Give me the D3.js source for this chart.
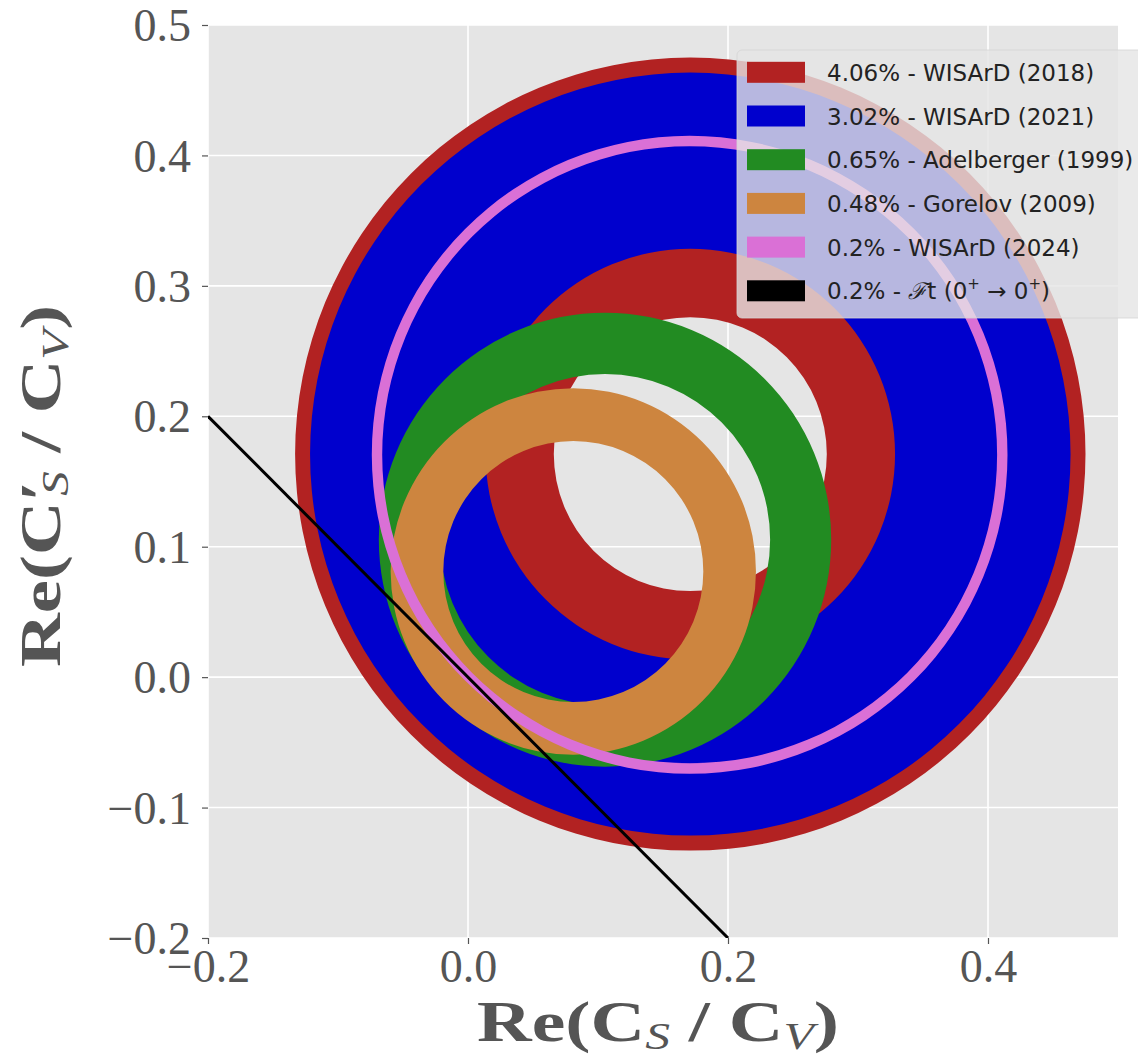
<!DOCTYPE html>
<html>
<meta charset="utf-8">
<style>
  body { margin: 0; background: #fff; }
  .tick text { font-family: "Liberation Serif", serif; font-size: 46px; fill: #555; }
  .axlabel { font-family: "Liberation Serif", serif; font-weight: bold; font-size: 58px; fill: #555; }
  .legend text { font-family: "DejaVu Sans", sans-serif; font-size: 23px; fill: #222; }
</style>
<head>
<script src="https://cdnjs.cloudflare.com/ajax/libs/d3/7.8.5/d3.min.js"></script>
</head>
<body>
<script>
// ring data (centre sits on the diagonal x = y)
var labels = ["4.06% - WISArD (2018)", "3.02% - WISArD (2021)", "0.65% - Adelberger (1999)",
              "0.48% - Gorelov (2009)", "0.2% - WISArD (2024)"];
var colors = ["#b22222", "#0000cd", "#228b22", "#cd853f", "#da70d6"];
var centers = [0.171, 0.171, 0.1054, 0.081, 0.1705];
var innerR = [0.105, 0.1575, 0.127, 0.100, 0.2365];
var outerR = [0.304, 0.2925, 0.174, 0.1405, 0.2445];

// F_t constraint line
var lineX = [-0.2, 0.2];
var lineY = [0.2, -0.2];

var xTicks = [-0.2, 0.0, 0.2, 0.4];
var yTicks = [-0.2, -0.1, 0.0, 0.1, 0.2, 0.3, 0.4, 0.5];

var width = 1138, height = 1059;
var m = {left: 208, right: 1118, top: 25, bottom: 938};

var x = d3.scaleLinear().domain([-0.2, 0.5]).range([m.left, m.right]);
var y = d3.scaleLinear().domain([-0.2, 0.5]).range([m.bottom, m.top]);

var svg = d3.select("body").append("svg")
    .attr("width", width)
    .attr("height", height);

svg.append("defs").append("clipPath").attr("id", "clip")
  .append("rect")
    .attr("x", m.left).attr("y", m.top)
    .attr("width", m.right - m.left).attr("height", m.bottom - m.top);

svg.append("rect")
    .attr("x", m.left).attr("y", m.top)
    .attr("width", m.right - m.left).attr("height", m.bottom - m.top)
    .attr("fill", "#e5e5e5");

// grid
var grid = svg.append("g");
grid.selectAll(".gx").data(xTicks).enter().append("line")
    .attr("x1", d => x(d)).attr("x2", d => x(d))
    .attr("y1", m.top).attr("y2", m.bottom)
    .attr("stroke", "#fff").attr("stroke-width", 1.6);
grid.selectAll(".gy").data(yTicks).enter().append("line")
    .attr("y1", d => y(d)).attr("y2", d => y(d))
    .attr("x1", m.left).attr("x2", m.right)
    .attr("stroke", "#fff").attr("stroke-width", 1.6);

// annulus as two ellipses, even-odd filled
function ellipse(c, r) {
  var cx = x(c), cy = y(c), rx = x(c + r) - x(c), ry = y(c) - y(c + r);
  return "M" + (cx - rx) + "," + cy +
         "A" + rx + "," + ry + " 0 1,0 " + (cx + rx) + "," + cy +
         "A" + rx + "," + ry + " 0 1,0 " + (cx - rx) + "," + cy + "Z";
}

var plot = svg.append("g").attr("clip-path", "url(#clip)");
plot.selectAll("path.ring").data(d3.range(labels.length)).enter().append("path")
    .attr("class", "ring")
    .attr("d", i => ellipse(centers[i], outerR[i]) + ellipse(centers[i], innerR[i]))
    .attr("fill", i => colors[i])
    .attr("fill-rule", "evenodd");

plot.append("path")
    .datum(d3.zip(lineX, lineY))
    .attr("d", d3.line().x(d => x(d[0])).y(d => y(d[1])))
    .attr("stroke", "#000").attr("stroke-width", 3).attr("fill", "none");

// axes
var xAxis = svg.append("g")
    .attr("transform", "translate(0," + m.bottom + ")")
    .call(d3.axisBottom(x).tickValues(xTicks).tickSize(6).tickPadding(5)
      .tickFormat(d => d3.format(".1f")(d).replace("-", "\u2212")));
var yAxis = svg.append("g")
    .attr("transform", "translate(" + m.left + ",0)")
    .call(d3.axisLeft(y).tickValues(yTicks).tickSize(6).tickPadding(11)
      .tickFormat(d => d3.format(".1f")(d).replace("-", "\u2212")));
[xAxis, yAxis].forEach(function(a) {
  a.select(".domain").remove();
  a.selectAll(".tick line").attr("stroke", "#555").attr("stroke-width", 1.2);
});
xAxis.selectAll(".tick text").attr("dy", "0.72em");
yAxis.selectAll(".tick text").attr("dy", "0.34em");

// axis labels
var xl = svg.append("text").attr("class", "axlabel")
    .attr("x", 658).attr("y", 1041).attr("text-anchor", "middle")
    .attr("textLength", 362).attr("lengthAdjust", "spacingAndGlyphs");
xl.append("tspan").text("Re(C");
xl.append("tspan").attr("font-style", "italic").attr("font-weight", "normal")
    .attr("font-size", "38px").attr("dy", 8).text("S");
xl.append("tspan").attr("dy", -8).text(" / C");
xl.append("tspan").attr("font-style", "italic").attr("font-weight", "normal")
    .attr("font-size", "38px").attr("dy", 8).text("V");
xl.append("tspan").attr("dy", -8).text(")");

var yl = svg.append("text").attr("class", "axlabel")
    .attr("transform", "translate(60,486) rotate(-90)")
    .attr("text-anchor", "middle")
    .attr("textLength", 362).attr("lengthAdjust", "spacingAndGlyphs");
yl.append("tspan").text("Re(C\u2032");
yl.append("tspan").attr("font-style", "italic").attr("font-weight", "normal")
    .attr("font-size", "38px").attr("dx", -12).attr("dy", 8).text("S");
yl.append("tspan").attr("dy", -8).text(" / C");
yl.append("tspan").attr("font-style", "italic").attr("font-weight", "normal")
    .attr("font-size", "38px").attr("dy", 8).text("V");
yl.append("tspan").attr("dy", -8).text(")");

// legend
var legend = svg.append("g").attr("class", "legend");
legend.append("rect")
    .attr("x", 737).attr("y", 50).attr("width", 410).attr("height", 268).attr("rx", 5)
    .attr("fill", "#e5e5e5").attr("fill-opacity", 0.8)
    .attr("stroke", "#d4d4d4").attr("stroke-opacity", 0.8);

var legColors = colors.concat(["#000"]);
var rowY = d => 72.3 + d * 43.7;
legend.selectAll("rect.sw").data(d3.range(legColors.length)).enter().append("rect")
    .attr("class", "sw")
    .attr("x", 747).attr("y", d => rowY(d) - 10.5)
    .attr("width", 58).attr("height", 21)
    .attr("fill", d => legColors[d]);
legend.selectAll("text.lab").data(labels).enter().append("text")
    .attr("class", "lab")
    .attr("x", 827).attr("y", (d, i) => rowY(i) + 8.5)
    .text(d => d);

var last = legend.append("text").attr("x", 827).attr("y", rowY(5) + 8.5);
last.append("tspan").text("0.2% - ");
last.append("tspan").attr("font-family", "DejaVu Serif").attr("font-style", "italic").text("\u2131");
last.append("tspan").text("t (0");
last.append("tspan").attr("font-size", "15px").attr("dy", -10).text("+");
last.append("tspan").attr("dy", 10).text(" \u2192 0");
last.append("tspan").attr("font-size", "15px").attr("dy", -10).text("+");
last.append("tspan").attr("dy", 10).text(")");
</script>
</body>
</html>
